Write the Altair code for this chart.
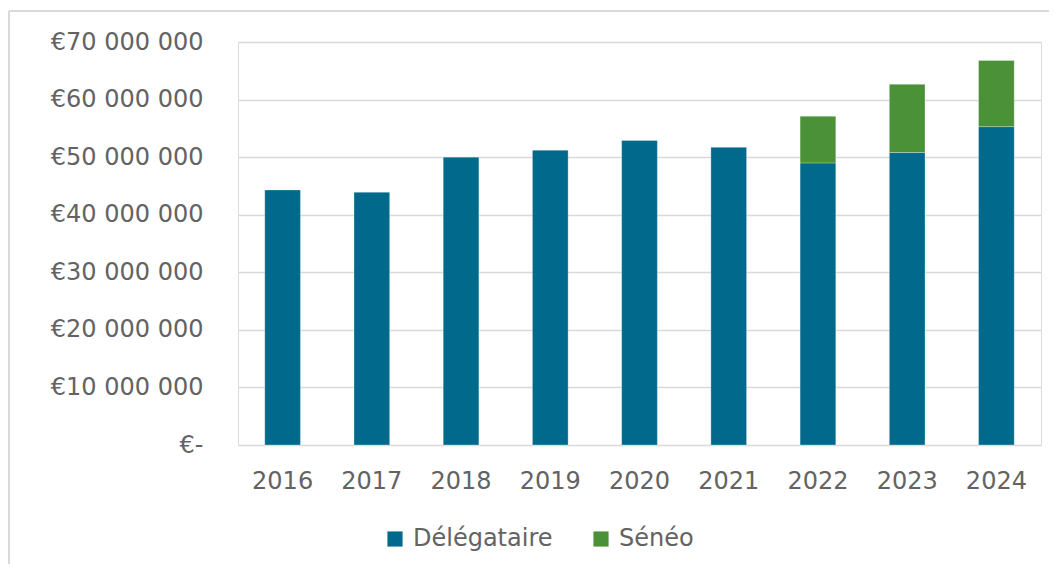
import altair as alt
import pandas as pd

years = ["2016", "2017", "2018", "2019", "2020", "2021", "2022", "2023", "2024"]
delegataire = [44.3e6, 43.9e6, 50.0e6, 51.2e6, 52.9e6, 51.7e6, 49.0e6, 50.8e6, 55.3e6]
seneo = [0, 0, 0, 0, 0, 0, 8.1e6, 11.85e6, 11.5e6]
series_names = ["Délégataire", "Sénéo"]
colors = ["#00698C", "#4A9137"]
y_ticks = [0, 10e6, 20e6, 30e6, 40e6, 50e6, 60e6, 70e6]

rows = []
for i, y in enumerate(years):
    rows.append({"year": y, "series": series_names[0], "value": delegataire[i], "ord": 0})
    if seneo[i] > 0:
        rows.append({"year": y, "series": series_names[1], "value": seneo[i], "ord": 1})
df = pd.DataFrame(rows)

FONT = "DejaVu Sans"
TXT = "#636363"
FS = 24

bars = alt.Chart(df).mark_bar(stroke="#ffffff", strokeWidth=0.6, strokeOpacity=0.5).encode(
    x=alt.X("year:N", sort=years,
            scale=alt.Scale(paddingInner=0.6, paddingOuter=0.3),
            axis=alt.Axis(title=None, labelAngle=0, ticks=False, domain=False,
                          labelPadding=24, labelFontSize=FS, labelFont=FONT,
                          labelColor=TXT, grid=False)),
    y=alt.Y("value:Q", stack="zero",
            scale=alt.Scale(domain=[0, 70e6], nice=False),
            axis=alt.Axis(title=None, values=y_ticks, ticks=False, domain=False,
                          labelPadding=35, labelFontSize=FS, labelFont=FONT,
                          labelColor=TXT, gridColor="#d9d9d9", gridWidth=1.6,
                          labelExpr="datum.value == 0 ? '€-' : '€' + replace(format(datum.value, ',.0f'), /,/g, ' ')")),
    color=alt.Color("series:N", sort=series_names,
                    scale=alt.Scale(domain=series_names, range=colors),
                    legend=alt.Legend(title=None, orient="none", direction="horizontal",
                                      legendX=145, legendY=485,
                                      symbolType="square", symbolSize=230,
                                      symbolStrokeWidth=0,
                                      labelFontSize=FS, labelFont=FONT, labelColor=TXT,
                                      labelOffset=6, columnPadding=36)),
    order=alt.Order("ord:Q"),
)

border_left = alt.Chart(pd.DataFrame({"k": [0]})).mark_rule(color="#d9d9d9", strokeWidth=2).encode(
    x=alt.value(-229), y=alt.value(-31), y2=alt.value(560))
border_top = alt.Chart(pd.DataFrame({"k": [0]})).mark_rule(color="#d9d9d9", strokeWidth=2).encode(
    y=alt.value(-31), x=alt.value(-229), x2=alt.value(830))

chart = alt.layer(bars, border_left, border_top).properties(
    width=803, height=403,
    autosize=alt.AutoSizeParams(type="none"),
    padding={"left": 230, "top": 34, "right": 8, "bottom": 119},
).configure_view(stroke=None).configure(background="#ffffff")

chart.save("out.html", embed_options={"renderer": "svg", "actions": False})
